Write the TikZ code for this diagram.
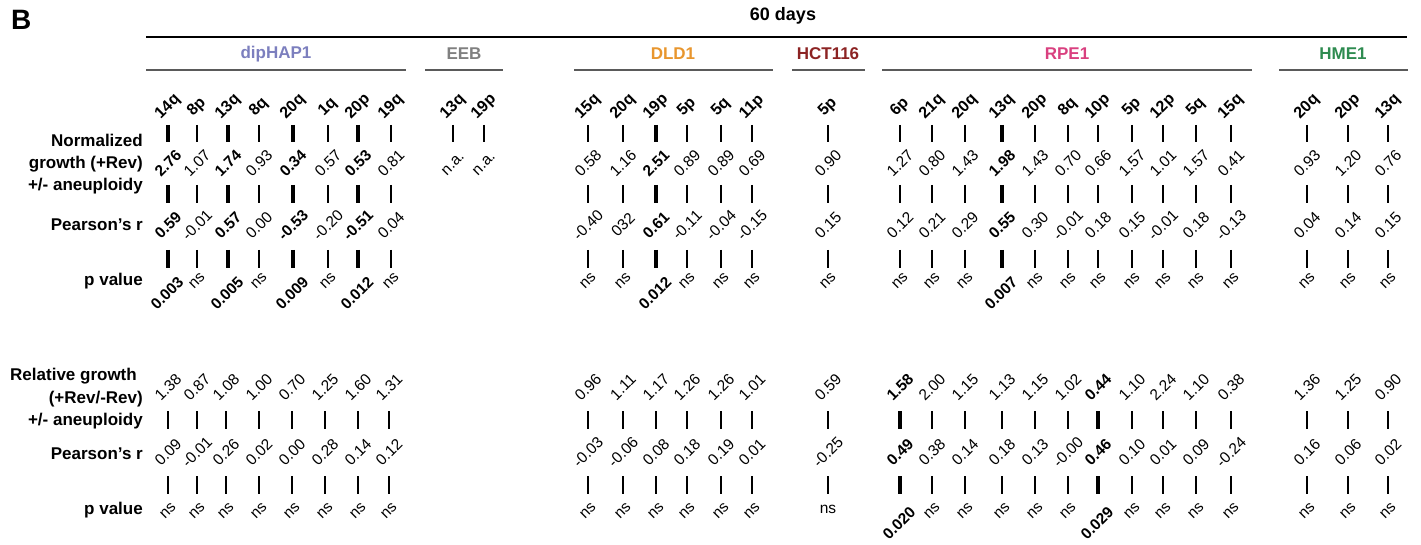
\documentclass[tikz,border=0pt]{standalone}
\usepackage{fontspec}
\setmainfont{Liberation Sans}
\definecolor{haplav}{RGB}{124,127,190}
\definecolor{eebgray}{RGB}{128,128,128}
\definecolor{dldorange}{RGB}{232,150,46}
\definecolor{hctred}{RGB}{140,35,35}
\definecolor{rpepink}{RGB}{217,64,127}
\definecolor{hmegreen}{RGB}{46,139,80}
\definecolor{linegray}{RGB}{90,90,90}
\begin{document}
\begin{tikzpicture}[x=1pt,y=-1pt,
  rowlab/.style={anchor=base east, inner sep=0pt, font=\fontsize{17}{20}\selectfont\bfseries},
  chrlab/.style={rotate=45, inner sep=0pt, font=\fontsize{16}{18}\selectfont\bfseries},
  num/.style={rotate=45, inner sep=0pt, font=\fontsize{15.5}{18}\selectfont},
  nb0/.style={num},
  nb1/.style={num, font=\fontsize{15.5}{18}\selectfont\bfseries},
  bar0/.style={draw=black, line width=2.2pt},
  bar1/.style={draw=black, line width=3.6pt},
  grpline/.style={line width=2pt, draw=linegray},
  grplab/.style={font=\fontsize{17}{20}\selectfont\bfseries, inner sep=0pt}
]
\useasboundingbox (0,0) rectangle (1421,545);

% panel letter and title
\node[anchor=base west, inner sep=0pt, font=\fontsize{28}{30}\selectfont\bfseries] (panel) at (11,30) {B};
\node[grplab, font=\fontsize{18}{20}\selectfont\bfseries] (title) at (783,16) {60 days};
\draw[line width=2pt] (146,37) -- (1407,37);

% group headers
\draw[grpline] (146,70) -- (406,70);
\node[grplab, text=haplav] (gHAP) at (276,54) {dipHAP1};
\draw[grpline] (425,70) -- (503,70);
\node[grplab, text=eebgray] (gEEB) at (464,54) {EEB};
\draw[grpline] (574,70) -- (773,70);
\node[grplab, text=dldorange] (gDLD) at (673,54) {DLD1};
\draw[grpline] (792,70) -- (865,70);
\node[grplab, text=hctred] (gHCT) at (828,54) {HCT116};
\draw[grpline] (882,70) -- (1252,70);
\node[grplab, text=rpepink] (gRPE) at (1067,54) {RPE1};
\draw[grpline] (1279,70) -- (1408,70);
\node[grplab, text=hmegreen] (gHME) at (1343,54) {HME1};

% row labels (top)
\node[rowlab] (lNorm1) at (143,146.5) {Normalized};
\node[rowlab] (lNorm2) at (143,168.5) {growth (+Rev)};
\node[rowlab] (lNorm3) at (143,191) {+/- aneuploidy};
\node[rowlab] (lPearT) at (143,231) {Pearson’s r};
\node[rowlab] (lPT) at (143,285.5) {p value};

% row labels (bottom)
\node[rowlab] (lRel1) at (137,380) {Relative growth};
\node[rowlab] (lRel2) at (143,403) {(+Rev/-Rev)};
\node[rowlab] (lRel3) at (143,425.5) {+/- aneuploidy};
\node[rowlab] (lPearB) at (143,459) {Pearson’s r};
\node[rowlab] (lPB) at (143,514) {p value};

% top section columns
\foreach \x/\c/\v/\r/\p/\b [count=\i] in {
168/14q/2.76/0.59/0.003/1,
197/8p/1.07/-0.01/ns/0,
228/13q/1.74/0.57/0.005/1,
259/8q/0.93/0.00/ns/0,
293/20q/0.34/-0.53/0.009/1,
328/1q/0.57/-0.20/ns/0,
358/20p/0.53/-0.51/0.012/1,
391/19q/0.81/0.04/ns/0,
588/15q/0.58/-0.40/ns/0,
623/20q/1.16/032/ns/0,
656/19p/2.51/0.61/0.012/1,
687/5p/0.89/-0.11/ns/0,
721/5q/0.89/-0.04/ns/0,
752/11p/0.69/-0.15/ns/0,
828/5p/0.90/0.15/ns/0,
900/6p/1.27/0.12/ns/0,
932/21q/0.80/0.21/ns/0,
965/20q/1.43/0.29/ns/0,
1002/13q/1.98/0.55/0.007/1,
1035/20p/1.43/0.30/ns/0,
1068/8q/0.70/-0.01/ns/0,
1098/10p/0.66/0.18/ns/0,
1132/5p/1.57/0.15/ns/0,
1163/12p/1.01/-0.01/ns/0,
1196/5q/1.57/0.18/ns/0,
1231/15q/0.41/-0.13/ns/0,
1307/20q/0.93/0.04/ns/0,
1348/20p/1.20/0.14/ns/0,
1388/13q/0.76/0.15/ns/0}{
  \pgfmathsetmacro\py{\b==1?293:281}
  \pgfmathsetmacro\px{\b==1?\x-1:\x}
  \node[chrlab] (chrT\i) at (\x,107) {\c};
  \draw[bar\b] (\x,125) -- (\x,142);
  \node[nb\b] (vT\i) at (\x,163) {\v};
  \draw[bar\b] (\x,185) -- (\x,203);
  \node[nb\b] (rT\i) at (\x,225) {\r};
  \draw[bar\b] (\x,250) -- (\x,268);
  \node[nb\b] (pT\i) at (\px,\py) {\p};
}

% EEB columns
\foreach \x/\c [count=\i] in {453/13q, 484/19p}{
  \node[chrlab] (chrE\i) at (\x,107) {\c};
  \draw[bar0] (\x,125) -- (\x,142);
  \node[nb0] (vE\i) at (\x,164) {n.a.};
}

% bottom section columns
\foreach \x/\v/\r/\p/\b [count=\i] in {
168/1.38/0.09/ns/0, 197/0.87/-0.01/ns/0, 226/1.08/0.26/ns/0, 259/1.00/0.02/ns/0,
292/0.70/0.00/ns/0, 325/1.25/0.28/ns/0, 358/1.60/0.14/ns/0, 389/1.31/0.12/ns/0,
588/0.96/-0.03/ns/0, 623/1.11/-0.06/ns/0, 656/1.17/0.08/ns/0, 687/1.26/0.18/ns/0,
721/1.26/0.19/ns/0, 752/1.01/0.01/ns/0,
900/1.58/0.49/0.020/1, 932/2.00/0.38/ns/0, 965/1.15/0.14/ns/0, 1002/1.13/0.18/ns/0,
1035/1.15/0.13/ns/0, 1068/1.02/-0.00/ns/0, 1098/0.44/0.46/0.029/1, 1132/1.10/0.10/ns/0,
1163/2.24/0.01/ns/0, 1196/1.10/0.09/ns/0, 1231/0.38/-0.24/ns/0,
1307/1.36/0.16/ns/0, 1348/1.25/0.06/ns/0, 1388/0.90/0.02/ns/0}{
  \pgfmathsetmacro\py{\b==1?523:511}
  \pgfmathsetmacro\px{\b==1?\x-1:\x}
  \node[nb\b] (vB\i) at (\x,387) {\v};
  \draw[bar\b] (\x,411) -- (\x,429);
  \node[nb\b] (rB\i) at (\x,452) {\r};
  \draw[bar\b] (\x,476) -- (\x,494);
  \node[nb\b] (pB\i) at (\px,\py) {\p};
}

% HCT116 bottom column (p value printed upright)
\node[nb0] (vBH) at (828,387) {0.59};
\draw[bar0] (828,411) -- (828,429);
\node[nb0] (rBH) at (828,452) {-0.25};
\draw[bar0] (828,476) -- (828,494);
\node[inner sep=0pt, font=\fontsize{15.5}{18}\selectfont] (pBH) at (828,509) {ns};
\end{tikzpicture}
\end{document}
